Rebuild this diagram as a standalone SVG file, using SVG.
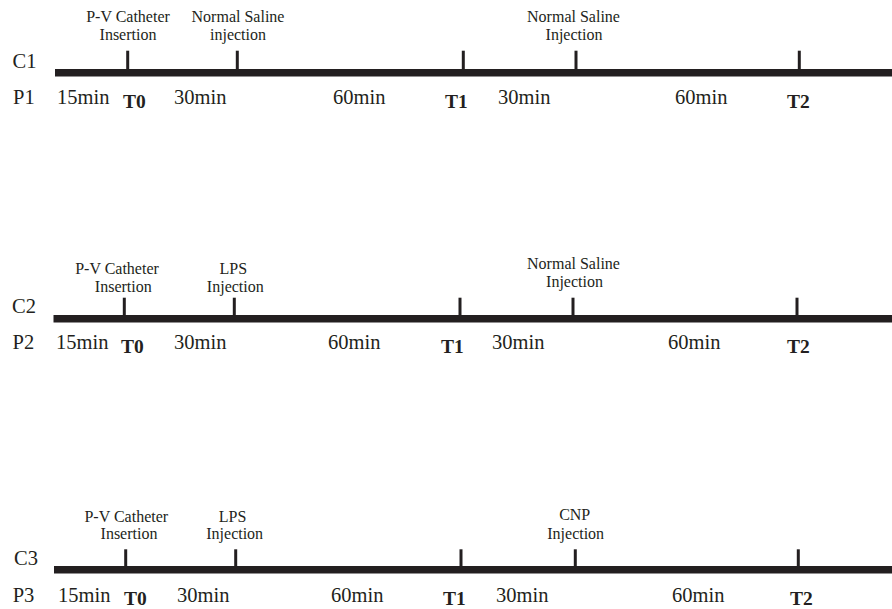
<svg xmlns="http://www.w3.org/2000/svg" width="892" height="609" viewBox="0 0 892 609">
<style>
.bar{fill:#231f20}
.tick{stroke:#231f20;stroke-width:3}
.lbl{font-family:"Liberation Serif","Times New Roman",serif;font-size:16px;fill:#231f20;text-anchor:middle}
.row{font-family:"Liberation Serif","Times New Roman",serif;font-size:20.5px;fill:#231f20}
.t{font-family:"Liberation Serif","Times New Roman",serif;font-size:19.5px;font-weight:bold;fill:#231f20}
</style>
<rect width="892" height="609" fill="#ffffff"/>

<g id="timeline1">
  <rect class="bar" x="55" y="69" width="837" height="7.5"/>
  <g id="ticks1">
    <line class="tick" x1="127.7" y1="50.7" x2="127.7" y2="70"/>
    <line class="tick" x1="237.3" y1="50.7" x2="237.3" y2="70"/>
    <line class="tick" x1="463.3" y1="50.7" x2="463.3" y2="70"/>
    <line class="tick" x1="576" y1="50.7" x2="576" y2="70"/>
    <line class="tick" x1="799.3" y1="50.7" x2="799.3" y2="70"/>
  </g>
  <g id="c1-pv"><text class="lbl" x="128" y="21.7">P-V Catheter</text><text class="lbl" x="128" y="40">Insertion</text></g>
  <g id="c1-ns1"><text class="lbl" x="238" y="21.7">Normal Saline</text><text class="lbl" x="238" y="40">injection</text></g>
  <g id="c1-ns2"><text class="lbl" x="573.5" y="21.7">Normal Saline</text><text class="lbl" x="574" y="40">Injection</text></g>
  <text class="row" x="12.5" y="68">C1</text>
  <text class="row" x="13" y="104">P1</text>
  <text class="row" x="57" y="104">15min</text>
  <text class="t" x="123" y="108.3">T0</text>
  <text class="row" x="174" y="104">30min</text>
  <text class="row" x="333" y="104">60min</text>
  <text class="t" x="445" y="108.3">T1</text>
  <text class="row" x="498" y="104">30min</text>
  <text class="row" x="675" y="104">60min</text>
  <text class="t" x="787" y="108.3">T2</text>
</g>

<g id="timeline2">
  <rect class="bar" x="53.5" y="315" width="838.5" height="7.5"/>
  <g id="ticks2">
    <line class="tick" x1="124.3" y1="297.7" x2="124.3" y2="316"/>
    <line class="tick" x1="234.3" y1="297.7" x2="234.3" y2="316"/>
    <line class="tick" x1="460" y1="297.7" x2="460" y2="316"/>
    <line class="tick" x1="573" y1="297.7" x2="573" y2="316"/>
    <line class="tick" x1="797" y1="297.7" x2="797" y2="316"/>
  </g>
  <g id="c2-pv"><text class="lbl" x="117" y="274">P-V Catheter</text><text class="lbl" x="123.3" y="291.7">Insertion</text></g>
  <g id="c2-lps"><text class="lbl" x="233.3" y="274">LPS</text><text class="lbl" x="235.3" y="291.7">Injection</text></g>
  <g id="c2-ns"><text class="lbl" x="573.5" y="268.5">Normal Saline</text><text class="lbl" x="574.5" y="286.5">Injection</text></g>
  <text class="row" x="12" y="313.3">C2</text>
  <text class="row" x="12.5" y="349.3">P2</text>
  <text class="row" x="56" y="349.3">15min</text>
  <text class="t" x="121" y="353.3">T0</text>
  <text class="row" x="174" y="349.3">30min</text>
  <text class="row" x="328" y="349.3">60min</text>
  <text class="t" x="441" y="353.3">T1</text>
  <text class="row" x="492" y="349.3">30min</text>
  <text class="row" x="668" y="349.3">60min</text>
  <text class="t" x="787" y="353.3">T2</text>
</g>

<g id="timeline3">
  <rect class="bar" x="54" y="566" width="838" height="7.5"/>
  <g id="ticks3">
    <line class="tick" x1="125.7" y1="549.3" x2="125.7" y2="567"/>
    <line class="tick" x1="235.7" y1="549.3" x2="235.7" y2="567"/>
    <line class="tick" x1="461" y1="549.3" x2="461" y2="567"/>
    <line class="tick" x1="575.3" y1="549.3" x2="575.3" y2="567"/>
    <line class="tick" x1="798.3" y1="549.3" x2="798.3" y2="567"/>
  </g>
  <g id="c3-pv"><text class="lbl" x="126.3" y="521.7">P-V Catheter</text><text class="lbl" x="129" y="539.3">Insertion</text></g>
  <g id="c3-lps"><text class="lbl" x="232.5" y="521.7">LPS</text><text class="lbl" x="234.7" y="539.3">Injection</text></g>
  <g id="c3-cnp"><text class="lbl" x="574.7" y="520">CNP</text><text class="lbl" x="575.7" y="539.3">Injection</text></g>
  <text class="row" x="14" y="565">C3</text>
  <text class="row" x="12.7" y="601.7">P3</text>
  <text class="row" x="58" y="601.7">15min</text>
  <text class="t" x="124" y="605">T0</text>
  <text class="row" x="177" y="601.7">30min</text>
  <text class="row" x="331" y="601.7">60min</text>
  <text class="t" x="443" y="605">T1</text>
  <text class="row" x="496" y="601.7">30min</text>
  <text class="row" x="672" y="601.7">60min</text>
  <text class="t" x="790" y="605">T2</text>
</g>
</svg>
